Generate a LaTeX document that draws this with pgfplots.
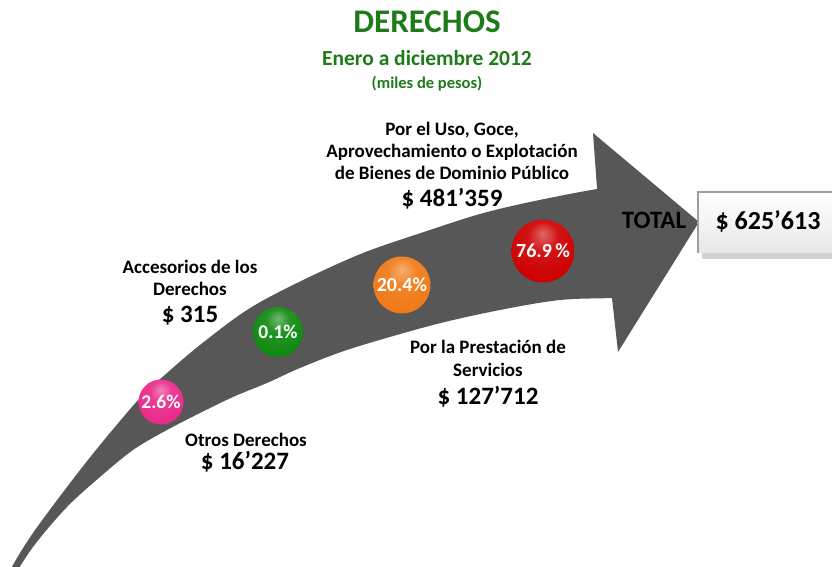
\documentclass[border=0pt]{standalone}
\usepackage{pgfplots}
\pgfplotsset{compat=1.18}
\usepackage{fontspec}
\setmainfont{Carlito}
\usetikzlibrary{shadings}
\definecolor{arrowgray}{HTML}{575757}
\definecolor{titlegreen}{HTML}{1F7A1A}
\definecolor{bpink}{HTML}{EA2A8C}
\definecolor{bgreen}{HTML}{108A10}
\definecolor{borange}{HTML}{F07A18}
\definecolor{bred}{HTML}{CE0000}
\makeatletter
\pgfdeclareradialshading[tikz@ball]{gloss}{\pgfqpoint{0bp}{14bp}}{%
 color(0bp)=(tikz@ball!60!white); color(12bp)=(tikz@ball!92!white);
 color(30bp)=(tikz@ball); color(50bp)=(tikz@ball!90!black); color(64bp)=(tikz@ball!70!black)}
\tikzoption{gloss color}{\pgfutil@colorlet{tikz@ball}{#1}\def\tikz@shading{gloss}\tikz@addmode{\tikz@mode@shadetrue}}
\makeatother
\newcommand{\fs}[1]{\fontsize{#1}{#1}\selectfont\bfseries}
\pgfplotsset{bubble/.style n args={3}{draw=none, mark=none, point meta=explicit symbolic,
  nodes near coords, nodes near coords align={center},
  every node near coord/.style={circle, gloss color=#1, minimum size=#2, inner sep=0pt,
    anchor=center, text=white, font=\fs{#3}}}}
\begin{document}
\begin{tikzpicture}
\begin{axis}[hide axis, scale only axis, width=832pt, height=567pt,
  xtick=\empty, ytick=\empty,
  xmin=0, xmax=832, ymin=0, ymax=567, clip=false]
% arrow shaft
\addplot[fill=arrowgray, draw=none, smooth, tension=0.55] coordinates {
(2,-22) (13,2) (33,34) (67,80) (100,122) (140,169) (167,194) (200,222) (247,257)
(297,284) (363,314) (430,337) (480,353) (530,365) (597,378) (640,383)
(640,271) (612,269) (560,267) (500,257) (433,242) (350,218) (300,199) (267,184)
(233,170) (200,154) (167,137) (133,117) (100,90) (67,60) (33,20) (6,-22)};
% arrow head
\addplot[fill=arrowgray, draw=none] coordinates {
(597,379) (593,434) (699,345) (618,215) (612,269)};
% bubbles
\addplot[bubble={bpink}{45pt}{19.5}] coordinates {(161,165) [2.6\%]};
\addplot[bubble={bgreen}{50pt}{19.5}] coordinates {(278,235) [0.1\%]};
\addplot[bubble={borange}{57pt}{20}] coordinates {(402,282) [20.4\%]};
\addplot[bubble={bred}{63pt}{20}] coordinates {(543,316) [76.9\,\%]};
% titles
\node[text=titlegreen, font=\fs{33}] at (427,545) {DERECHOS};
\node[text=titlegreen, font=\fs{21.5}] at (427,509) {Enero a diciembre 2012};
\node[text=titlegreen, font=\fs{16.5}] at (427,483) {(miles de pesos)};
% labels
\node[font=\fs{19}] at (452,437) {Por el Uso, Goce,};
\node[font=\fs{19}] at (452,415) {Aprovechamiento o Explotación};
\node[font=\fs{19}] at (452,394) {de Bienes de Dominio Público};
\node[font=\fs{25}] at (452,368) {\$ 481’359};
\node[font=\fs{19}] at (190,300) {Accesorios de los};
\node[font=\fs{19}] at (190,278) {Derechos};
\node[font=\fs{25}] at (190,251) {\$ 315};
\node[font=\fs{19}] at (246,127) {Otros Derechos};
\node[font=\fs{25}] at (245,105) {\$ 16’227};
\node[font=\fs{19}] at (488,220) {Por la Prestación de};
\node[font=\fs{19}] at (488,197) {Servicios};
\node[font=\fs{25}] at (488,170) {\$ 127’712};
% total
\fill[gray!35] (702,308) rectangle (832,370);
\fill[top color=white, bottom color=gray!18] (698,314) rectangle (832,375);
\draw[gray!75, line width=1.2pt] (698,314) -- (698,375) -- (832,375);
\node[font=\fs{25}] at (654,347) {TOTAL};
\node[font=\fs{26}] at (768,346) {\$ 625’613};
\end{axis}
\pgfresetboundingbox
\useasboundingbox (current axis.south west) rectangle (current axis.north east);
\end{tikzpicture}
\end{document}
